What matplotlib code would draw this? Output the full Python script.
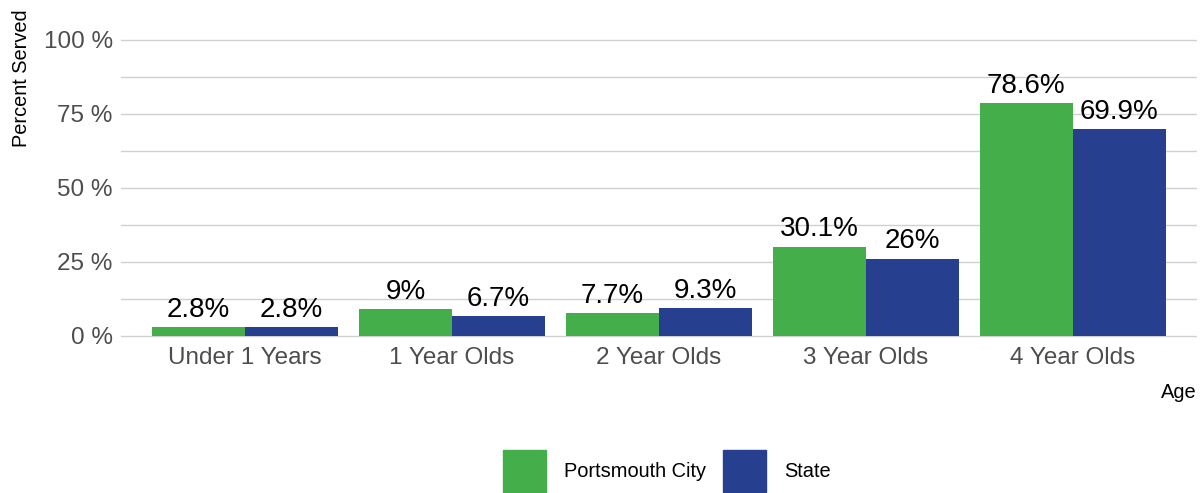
import matplotlib
matplotlib.use("Agg")
from matplotlib import pyplot as plt
from matplotlib.patches import Patch
import numpy as np

ages = ['Under 1 Years', '1 Year Olds', '2 Year Olds', '3 Year Olds', '4 Year Olds']
portsmouth = [2.8, 9, 7.7, 30.1, 78.6]
state = [2.8, 6.7, 9.3, 26, 69.9]
y_ticks = [0, 25, 50, 75, 100]

green = '#43ae4a'
blue = '#26408f'
font = ['Liberation Sans', 'DejaVu Sans']

fig = plt.figure(figsize=(12.03, 4.93), dpi=100)
ax = fig.add_axes([121 / 1203, 1 - 340 / 493, (1197 - 121) / 1203, (340 - 25) / 493])

x = np.arange(1, len(ages) + 1)
w = 0.45
b1 = ax.bar(x - w / 2, portsmouth, w, color=green, zorder=3)
b2 = ax.bar(x + w / 2, state, w, color=blue, zorder=3)

# value labels just above each bar
for bars, vals in [(b1, portsmouth), (b2, state)]:
    for bar, v in zip(bars, vals):
        ax.annotate('{:g}%'.format(v), (bar.get_x() + bar.get_width() / 2, v),
                    xytext=(0, 3), textcoords='offset points', ha='center', va='bottom',
                    fontsize=20, family=font, color='black')

ax.set_xlim(0.4, 5.6)
ax.set_ylim(-1.5, 105)
ax.set_yticks(y_ticks)
ax.set_yticklabels(['{} %'.format(t) for t in y_ticks], family=font, fontsize=17.5, color='#4d4d4d')
ax.set_yticks([12.5, 37.5, 62.5, 87.5], minor=True)
ax.set_xticks(x)
ax.set_xticklabels(ages, family=font, fontsize=17.5, color='#4d4d4d')
ax.tick_params(axis='both', which='both', length=0)
ax.tick_params(axis='y', pad=6)
ax.tick_params(axis='x', pad=5)
ax.grid(axis='y', which='both', color='#d0d0d0', linewidth=1, zorder=0)
for s in ax.spines.values():
    s.set_visible(False)

fig.text(22 / 1203, 1 - 78 / 493, 'Percent Served', rotation=90, ha='center', va='center',
         family=font, fontsize=14.4, color='black')
fig.text(1197 / 1203, 1 - 393 / 493, 'Age', ha='right', va='center',
         family=font, fontsize=14.4, color='black')

handles = [Patch(color=green, label='Portsmouth City'), Patch(color=blue, label='State')]
fig.legend(handles=handles, loc='center', bbox_to_anchor=(667 / 1203, 1 - 471 / 493), ncol=2,
           frameon=False, prop={'family': font, 'size': 14.4},
           handlelength=2.15, handleheight=2.9, handletextpad=0.9, columnspacing=0.85)

plt.savefig('out.png', dpi=100)
